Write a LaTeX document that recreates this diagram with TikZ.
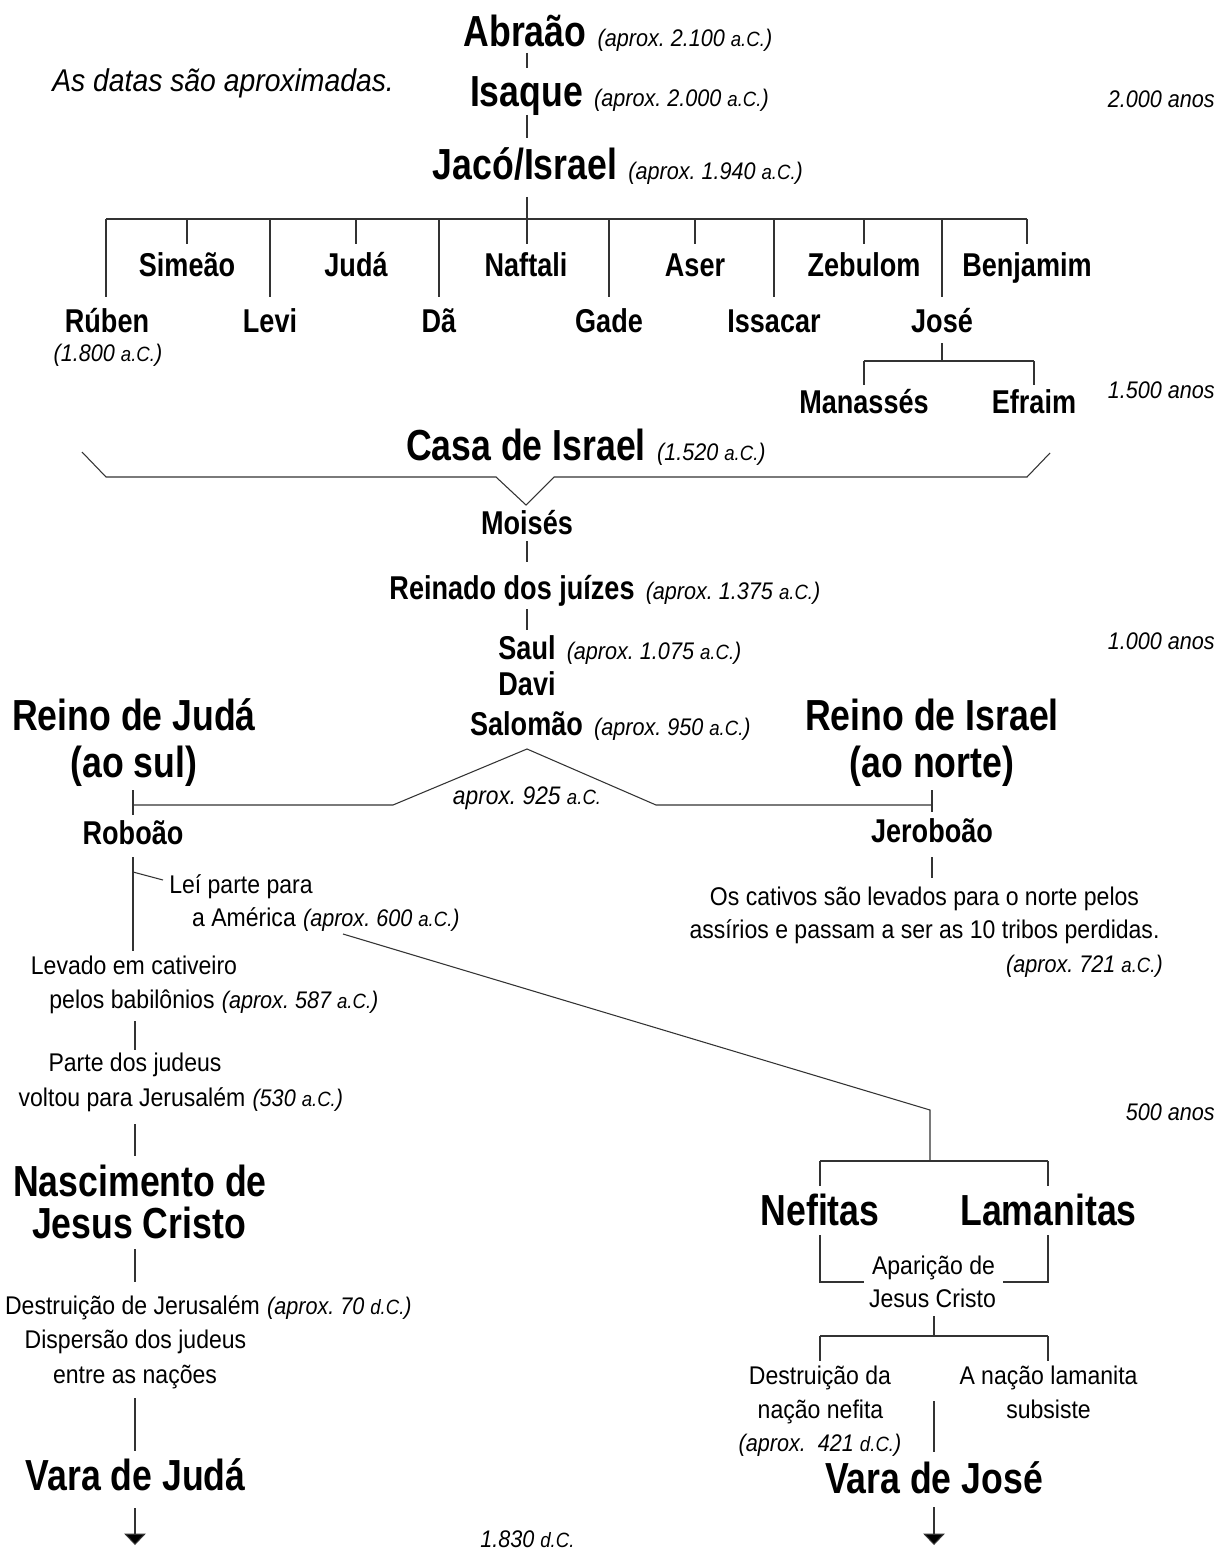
\documentclass[tikz,border=0pt]{standalone}
\usepackage{fontspec}
\setmainfont{Liberation Sans}
\newfontfamily\fbold{Liberation Sans}[FakeStretch=0.82]
\newfontfamily\freg{Liberation Sans}[FakeStretch=0.9]
\usetikzlibrary{arrows.meta}
\frenchspacing
\newcommand\myac{{\fontsize{15.5pt}{15.5pt}\selectfont a.C.}}
\newcommand\mydc{{\fontsize{15.5pt}{15.5pt}\selectfont d.C.}}
\begin{document}
\begin{tikzpicture}[x=0.75pt,y=-0.75pt,
  big/.style={font=\fbold\bfseries\fontsize{32.6pt}{35pt}\selectfont, inner sep=0pt, anchor=base},
  mid/.style={font=\fbold\bfseries\fontsize{24.75pt}{27pt}\selectfont, inner sep=0pt, anchor=base},
  reg/.style={font=\freg\fontsize{19.2pt}{25.5pt}\selectfont, inner sep=0pt, anchor=base},
  dtbase/.style={font=\freg\itshape\fontsize{18pt}{25.5pt}\selectfont, inner sep=0pt},
  dt/.style={dtbase, anchor=base west, xshift=8pt},
  dts/.style={dtbase, anchor=base west, xshift=5pt},
  dtc/.style={dtbase, anchor=base},
  dtw/.style={dtbase, anchor=base west},
  dte/.style={dtbase, anchor=base east},
  anos/.style={dtbase, anchor=base east},
  note/.style={font=\freg\itshape\fontsize{23.6pt}{28pt}\selectfont, inner sep=0pt, anchor=base west},
  ln/.style={draw=black!80, line width=0.8pt},
  arr/.style={ln, -{Triangle[width=16pt,length=8.5pt,fill=black]}}
]
\useasboundingbox[fill=white] (0,0) rectangle (1218,1551);

% ---------- top chain ----------
\node[big] (abraao) at (525,47) {Abraão};
\node[dt] (abraaoD) at (abraao.base east) {(aprox. 2.100 \myac)};
\node[big] (isaque) at (526.5,107) {Isaque};
\node[dt] (isaqueD) at (isaque.base east) {(aprox. 2.000 \myac)};
\node[big] (jaco) at (525,180) {Jacó/Israel};
\node[dt] (jacoD) at (jaco.base east) {(aprox. 1.940 \myac)};
\node[note] (nota) at (52,92) {As datas são aproximadas.};

\node[anos] (a2000) at (1215,108) {2.000 anos};
\node[anos] (a1500) at (1215,398) {1.500 anos};
\node[anos] (a1000) at (1215,649) {1.000 anos};
\node[anos] (a500) at (1215,1120) {500 anos};

\coordinate (c1a) at (527,53);  \coordinate (c1b) at (527,68);
\coordinate (c2a) at (527,115); \coordinate (c2b) at (527,138);
\coordinate (c3a) at (527,197);
\coordinate (barL) at (106,219); \coordinate (barM) at (527,219); \coordinate (barR) at (1027,219);
\draw[ln] (c1a) -- (c1b);
\draw[ln] (c2a) -- (c2b);
\draw[ln] (c3a) -- (barM);
\draw[ln] (barL) -- (barR);

% ---------- tribes ----------
\node[mid] (simeao) at (187,277) {Simeão};
\node[mid] (juda) at (356,277) {Judá};
\node[mid] (naftali) at (526,277) {Naftali};
\node[mid] (aser) at (695,277) {Aser};
\node[mid] (zebulom) at (864,277) {Zebulom};
\node[mid] (benjamim) at (1027,277) {Benjamim};
\node[mid] (ruben) at (107,333) {Rúben};
\node[mid] (levi) at (270,333) {Levi};
\node[mid] (da) at (439,333) {Dã};
\node[mid] (gade) at (609,333) {Gade};
\node[mid] (issacar) at (774,333) {Issacar};
\node[mid] (jose) at (942,333) {José};
\node[dtc] (rubenD) at (108,361) {(1.800 \myac)};

\foreach \xx in {187,356,527,695,864,1027} \draw[ln] (\xx,219) -- (\xx,244);
\foreach \xx in {106,270,439,609,774,942} \draw[ln] (\xx,219) -- (\xx,297);

\node[mid] (manasses) at (864,413) {Manassés};
\node[mid] (efraim) at (1034,413) {Efraim};
\coordinate (js) at (942,343); \coordinate (jb) at (942,361);
\coordinate (jbL) at (864,361); \coordinate (jbR) at (1034,361);
\draw[ln] (js) -- (jb);
\draw[ln] (jbL) -- (jbR);
\draw[ln] (jbL) -- (864,385);
\draw[ln] (jbR) -- (1034,385);

% ---------- Casa de Israel ----------
\node[big] (casa) at (526,460) {Casa de Israel};
\node[dt] (casaD) at (casa.base east) {(1.520 \myac)};
\coordinate (brA) at (82,452); \coordinate (brB) at (106,477);
\coordinate (brC) at (496,477); \coordinate (brTip) at (526,505);
\coordinate (brD) at (554,477); \coordinate (brE) at (1027,477);
\coordinate (brF) at (1050,453);
\draw[ln] (brA) -- (brB) -- (brC) -- (brTip) -- (brD) -- (brE) -- (brF);

\node[mid] (moises) at (527,534) {Moisés};
\draw[ln] (527,541) -- (527,562);
\node[mid] (reinado) at (512,599) {Reinado dos juízes};
\node[dt] (reinadoD) at (reinado.base east) {(aprox. 1.375 \myac)};
\draw[ln] (527,609) -- (527,630);
\node[mid] (saul) at (527,659) {Saul};
\node[dt] (saulD) at (saul.base east) {(aprox. 1.075 \myac)};
\node[mid] (davi) at (527,695) {Davi};
\node[mid] (salomao) at (526.5,735) {Salomão};
\node[dt] (salomaoD) at (salomao.base east) {(aprox. 950 \myac)};

% ---------- division ----------
\node[big] (reinoJ1) at (134,730) {Reino de Judá};
\node[big] (reinoJ2) at (134,777) {(ao sul)};
\node[big] (reinoI1) at (932,730) {Reino de Israel};
\node[big] (reinoI2) at (932,777) {(ao norte)};
\node[dtc, font=\freg\itshape\fontsize{19pt}{25pt}\selectfont] (d925) at (527,804) {aprox. 925 \myac};

\coordinate (apex) at (527,749);
\coordinate (pl) at (393,805); \coordinate (plE) at (133,805);
\coordinate (pr) at (656,805); \coordinate (prE) at (932,805);
\draw[ln] (plE) -- (pl) -- (apex) -- (pr) -- (prE);
\draw[ln] (133,790) -- (133,815);
\draw[ln] (932,790) -- (932,812);

% ---------- south kingdom ----------
\node[mid] (roboao) at (133,844) {Roboão};
\coordinate (rb1) at (133,857); \coordinate (rb2) at (133,951);
\draw[ln] (rb1) -- (rb2);
\coordinate (lb1) at (133,872); \coordinate (lb2) at (163,880);
\draw[ln] (lb1) -- (lb2);
\node[reg] (lei1) at (241,893) {Leí parte para};
\node[reg] (lei2) at (244,926) {a América};
\node[dts] (lei2D) at (lei2.base east) {(aprox. 600 \myac)};

\node[reg] (lev1) at (134,974) {Levado em cativeiro};
\node[reg] (lev2) at (132,1008) {pelos babilônios};
\node[dts] (lev2D) at (lev2.base east) {(aprox. 587 \myac)};
\draw[ln] (135,1021) -- (135,1050);
\node[reg] (par1) at (135,1071) {Parte dos judeus};
\node[reg] (par2) at (132,1106) {voltou para Jerusalém};
\node[dts] (par2D) at (par2.base east) {(530 \myac)};
\draw[ln] (135,1124) -- (135,1156);
\node[big] (nasc1) at (140,1196) {Nascimento de};
\node[big] (nasc2) at (139,1238) {Jesus Cristo};
\draw[ln] (135,1249) -- (135,1282);
\node[reg] (des1) at (132.5,1314) {Destruição de Jerusalém};
\node[dts] (des1D) at (des1.base east) {(aprox. 70 \mydc)};
\node[reg] (disp1) at (135.5,1348) {Dispersão dos judeus};
\node[reg] (disp2) at (135,1383) {entre as nações};
\draw[ln] (135,1398) -- (135,1451);
\node[big] (varaJ) at (135.5,1490) {Vara de Judá};
\coordinate (aJ1) at (135,1508); \coordinate (aJ2) at (135,1545);
\draw[arr] (aJ1) -- (aJ2);
\node[dtw] (d1830) at (480,1547) {1.830 \mydc};

% ---------- north kingdom ----------
\node[mid] (jeroboao) at (932,842) {Jeroboão};
\draw[ln] (932,857) -- (932,878);
\node[reg] (cat1) at (924.5,905) {Os cativos são levados para o norte pelos};
\node[reg] (cat2) at (924.5,938) {assírios e passam a ser as 10 tribos perdidas.};
\node[dte] (catD) at (1163,972) {(aprox. 721 \myac)};

% ---------- Lehi line ----------
\coordinate (dg1) at (343,934); \coordinate (dg2) at (930,1110); \coordinate (dg3) at (930,1161);
\draw[ln] (dg1) -- (dg2) -- (dg3);
\coordinate (nbL) at (820,1161); \coordinate (nbR) at (1048,1161);
\draw[ln] (nbL) -- (nbR);
\draw[ln] (nbL) -- (820,1186);
\draw[ln] (nbR) -- (1048,1186);
\node[big] (nefitas) at (820,1225) {Nefitas};
\node[big] (lamanitas) at (1048.5,1225) {Lamanitas};
\draw[ln] (820,1235) -- (820,1282) -- (864,1282);
\draw[ln] (1048,1235) -- (1048,1282) -- (1003,1282);
\node[reg] (apa1) at (933.5,1274) {Aparição de};
\node[reg] (apa2) at (932.5,1307) {Jesus Cristo};
\coordinate (ab1) at (934,1316); \coordinate (ab2) at (934,1336);
\draw[ln] (ab1) -- (ab2);
\coordinate (abL) at (820,1336); \coordinate (abR) at (1048,1336);
\draw[ln] (abL) -- (abR);
\draw[ln] (abL) -- (820,1361);
\draw[ln] (abR) -- (1048,1361);
\node[reg] (dn1) at (820,1384) {Destruição da};
\node[reg] (dn2) at (820.5,1418) {nação nefita};
\node[dtc] (dn3) at (820,1451) {(aprox.\ \ 421 \mydc)};
\node[reg] (ln1) at (1048.5,1384) {A nação lamanita};
\node[reg] (ln2) at (1048.5,1418) {subsiste};
\draw[ln] (934,1401) -- (934,1452);
\node[big] (varaJo) at (934,1493) {Vara de José};
\coordinate (aK1) at (934,1507); \coordinate (aK2) at (934,1545);
\draw[arr] (aK1) -- (aK2);
\end{tikzpicture}
\end{document}
